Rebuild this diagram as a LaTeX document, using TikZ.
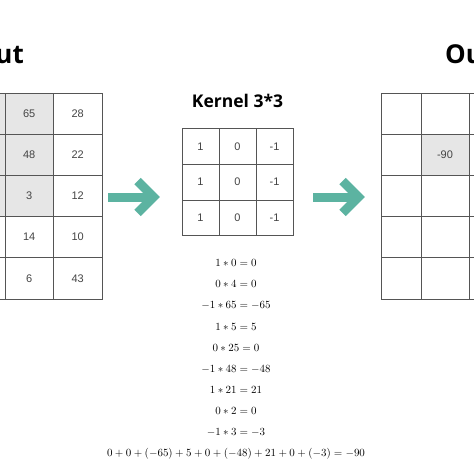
\documentclass[tikz,border=0pt]{standalone}
\usepackage{fontspec}
\setmainfont{Liberation Sans}
\newfontfamily\titlefont{Open Sans}
\definecolor{gridline}{HTML}{555555}
\definecolor{cellgray}{HTML}{E6E6E6}
\definecolor{numtext}{HTML}{444444}
\definecolor{teal}{HTML}{5CB3A1}
\begin{document}
\begin{tikzpicture}[x=1pt,y=-1pt,
  cell/.style={draw=gridline, line width=0.9pt, inner sep=0pt, outer sep=0pt,
    font=\fontsize{11}{13}\selectfont, text=numtext},
  incell/.style={cell, minimum width=48.5pt, minimum height=41.2pt},
  kcell/.style={cell, minimum width=37pt, minimum height=35.8pt},
  shade/.style={fill=cellgray},
  title/.style={font=\titlefont\bfseries\fontsize{26}{30}\selectfont, inner sep=0pt},
  eqn/.style={font=\fontsize{11.2}{13}\selectfont, anchor=base, inner sep=0pt},
  bigarrow/.style={draw=teal, line width=9pt}
]
\useasboundingbox (0,0) rectangle (474,474);
\clip (0,0) rectangle (474,474);

% titles
\node[title, anchor=base east] (tin) at (24,63) {Input};
\node[title, anchor=base west] (tout) at (445,63) {Output};
\node[font=\titlefont\bfseries\fontsize{17.5}{20}\selectfont, anchor=base, inner sep=0pt] (tker) at (237.5,107) {Kernel 3*3};

% input grid (partly outside the picture)
\foreach \r/\a/\b [count=\i] in {1/65/28,2/48/22,3/3/12,4/14/10,5/6/43}{
  \pgfmathsetmacro{\yy}{93+41.2*(\r-0.5)}
  \ifnum\r<4
    \node[incell, shade] (in\r c0) at (-19.25,\yy) {};
    \node[incell, shade] (in\r c1) at (29.25,\yy) {\a};
  \else
    \node[incell] (in\r c0) at (-19.25,\yy) {};
    \node[incell] (in\r c1) at (29.25,\yy) {\a};
  \fi
  \node[incell] (in\r c2) at (77.75,\yy) {\b};
}

% kernel grid
\foreach \r in {1,2,3}{
  \pgfmathsetmacro{\yy}{128.5+35.8*(\r-0.5)}
  \node[kcell] (k\r c1) at (200.5,\yy) {1};
  \node[kcell] (k\r c2) at (237.5,\yy) {0};
  \node[kcell] (k\r c3) at (274.5,\yy) {-1};
}

% output grid
\foreach \r in {1,...,5}{
  \pgfmathsetmacro{\yy}{93+41.2*(\r-0.5)}
  \node[cell, minimum width=40pt, minimum height=41.2pt] (o\r c1) at (401,\yy) {};
  \ifnum\r=2
    \node[cell, shade, minimum width=48pt, minimum height=41.2pt] (o\r c2) at (445,\yy) {-90};
  \else
    \node[cell, minimum width=48pt, minimum height=41.2pt] (o\r c2) at (445,\yy) {};
  \fi
  \node[cell, minimum width=48pt, minimum height=41.2pt] (o\r c3) at (493,\yy) {};
}

% arrows
\coordinate (a1s) at (108,197);
\coordinate (a1e) at (152,197);
\draw[bigarrow] (a1s) -- (a1e);
\draw[bigarrow, line join=miter] (137.6,181) -- (153.6,197) -- (137.6,213);
\coordinate (a2s) at (313,197);
\coordinate (a2e) at (357,197);
\draw[bigarrow] (a2s) -- (a2e);
\draw[bigarrow, line join=miter] (342.6,181) -- (358.6,197) -- (342.6,213);

% equations
\node[eqn] (e1) at (236,266) {$1\ast0=0$};
\node[eqn] (e2) at (236,287) {$0\ast4=0$};
\node[eqn] (e3) at (236,308) {$-1\ast65=-65$};
\node[eqn] (e4) at (236,330) {$1\ast5=5$};
\node[eqn] (e5) at (236,351) {$0\ast25=0$};
\node[eqn] (e6) at (236,372) {$-1\ast48=-48$};
\node[eqn] (e7) at (236,393) {$1\ast21=21$};
\node[eqn] (e8) at (236,414) {$0\ast2=0$};
\node[eqn] (e9) at (236,435) {$-1\ast3=-3$};
\node[eqn] (e10) at (236,456) {$0+0+(-65)+5+0+(-48)+21+0+(-3)=-90$};
\end{tikzpicture}
\end{document}
